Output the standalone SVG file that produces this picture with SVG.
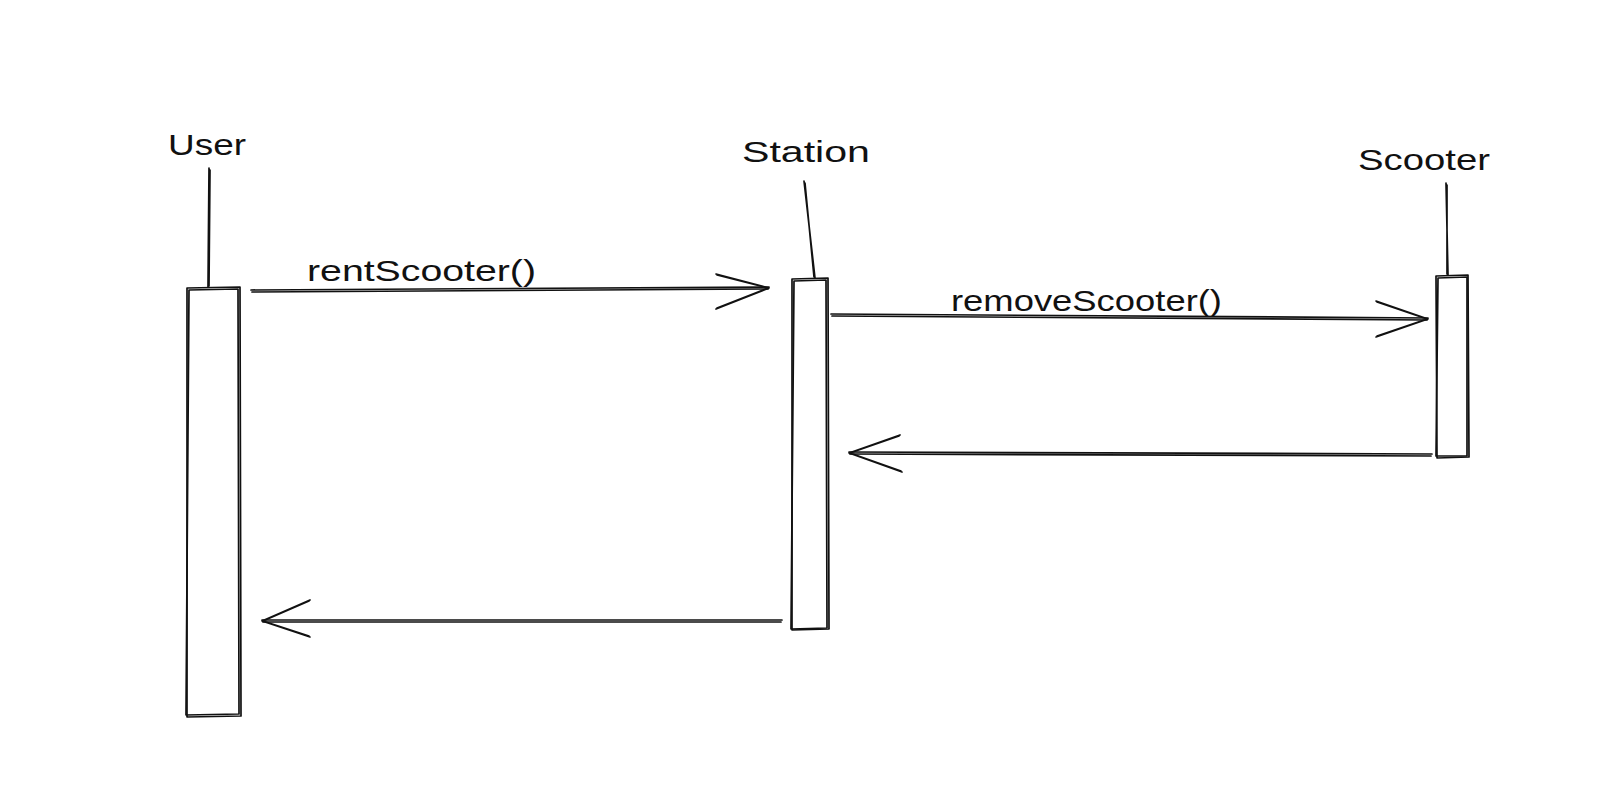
<svg xmlns="http://www.w3.org/2000/svg" width="1619" height="795" viewBox="0 0 1619 795">
<style>
.s{fill:none;stroke:#111111;stroke-width:1.7;stroke-linecap:round;stroke-linejoin:round}
.t{font-family:"Liberation Sans",Arial,sans-serif;font-size:29px;fill:#111111}
</style>
<rect width="1619" height="795" fill="#ffffff"/>
<g id="user">
<text class="t" x="168" y="155" textLength="78" lengthAdjust="spacingAndGlyphs">User</text>
<path class="s" d="M209,168 L208,287 M210,170 L209,286"/>
<path class="s" d="M187,288 L240,287 L241,716 L187,717 Z"/>
<path class="s" d="M189,290 L238,289 L239,714 L186,715 Z"/>
</g>
<g id="station">
<text class="t" x="742" y="162" textLength="128" lengthAdjust="spacingAndGlyphs">Station</text>
<path class="s" d="M804,181 L815,278 M805,183 L814,277"/>
<path class="s" d="M792,279 L828,278 L829,629 L792,630 Z"/>
<path class="s" d="M794,281 L826,280 L827,628 L791,629 Z"/>
</g>
<g id="scooter">
<text class="t" x="1358" y="170" textLength="132" lengthAdjust="spacingAndGlyphs">Scooter</text>
<path class="s" d="M1446,183 L1448,275 M1447,185 L1447,274"/>
<path class="s" d="M1436,276 L1468,275 L1469,457 L1437,458 Z"/>
<path class="s" d="M1438,278 L1467,277 L1467,456 L1436,456 Z"/>
</g>
<g id="connectors">
<path class="s" d="M251,290 L769,287 M252,292 L768,289"/>
<path class="s" d="M716,274 L769,288 L716,309 M717,275 L768,288 L717,308"/>
<text class="t" x="307" y="281" textLength="229" lengthAdjust="spacingAndGlyphs">rentScooter()</text>
<path class="s" d="M831,314 L1428,318 M832,316 L1427,320"/>
<path class="s" d="M1376,301 L1428,319 L1376,337 M1377,302 L1427,319 L1377,336"/>
<text class="t" x="951" y="311" textLength="271" lengthAdjust="spacingAndGlyphs">removeScooter()</text>
<path class="s" d="M1432,454 L849,452 M1431,456 L850,454"/>
<path class="s" d="M900,435 L849,453 L902,472 M899,436 L850,453 L901,471"/>
<path class="s" d="M782,620 L262,620 M781,622 L263,622"/>
<path class="s" d="M310,600 L262,621 L310,637 M309,601 L263,621 L309,636"/>
</g>
</svg>
